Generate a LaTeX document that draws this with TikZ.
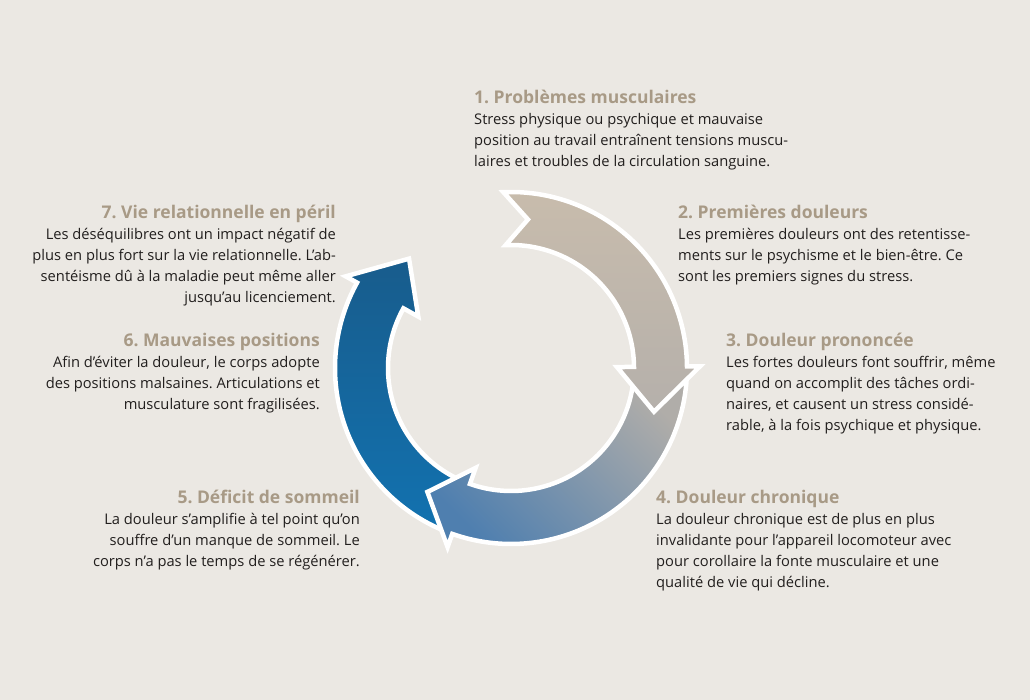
\documentclass[tikz,border=0pt]{standalone}
\usepackage{fontspec}
\setmainfont{Open Sans}
\frenchspacing
\definecolor{bg}{HTML}{EBE8E3}
\definecolor{ttl}{HTML}{A89A86}
\definecolor{txt}{HTML}{221F1E}
\definecolor{tanT}{HTML}{C8BCAC}
\definecolor{tanB}{HTML}{B5B0AB}
\definecolor{greyT}{HTML}{B0ADA9}
\definecolor{greyB}{HTML}{4F7FAF}
\definecolor{blueT}{HTML}{185C8C}
\definecolor{blueB}{HTML}{1272B0}
\newcommand\ttlfont{\fontsize{17.5pt}{20.8pt}\selectfont\bfseries\color{ttl}}
\newcommand\BlockL[1]{\vtop{\baselineskip=20.8pt\lineskiplimit=-100pt\lineskip=0pt\halign{##\hfil\cr#1\crcr}}}
\newcommand\BlockR[1]{\vtop{\baselineskip=20.8pt\lineskiplimit=-100pt\lineskip=0pt\halign{\hfil##\cr#1\crcr}}}
\tikzset{
  arrowshape/.style={draw=white, line width=4.5pt, line join=miter},
  txtblock/.style={inner sep=0pt, text=txt, font=\fontsize{14.7pt}{20.8pt}\selectfont}
}
\begin{document}
\begin{tikzpicture}[x=1pt,y=1pt]
\useasboundingbox (0,0) rectangle (1030,700);
\fill[bg] (0,0) rectangle (1030,700);
\begin{scope}[shift={(511,332)}]
  % blue arrow (6-7)
  \path[arrowshape, top color=blueT, bottom color=blueB]
    (248:176pt) arc[start angle=248, end angle=151, radius=176pt]
    -- (151:189pt) -- (133:149.5pt) -- (151:106pt) -- (151:123pt)
    arc[start angle=151, end angle=248, radius=123pt] -- cycle;
  % grey arrow (3-5)
  \path[arrowshape, top color=greyT, bottom color=greyB, shading angle=-45]
    (-1:176pt) arc[start angle=-1, end angle=-109.5, radius=176pt]
    -- (-109.5:190pt) -- (-124:149.5pt) -- (-109.5:106pt) -- (-109.5:123pt)
    arc[start angle=-109.5, end angle=-1, radius=123pt] -- cycle;
  % tan arrow (1-3)
  \path[arrowshape, top color=tanT, bottom color=tanB]
    (92.5:176pt) arc[start angle=92.5, end angle=0.5, radius=176pt]
    -- (0.5:189pt) -- (-17:149.5pt) -- (0.5:106pt) -- (0.5:123pt)
    arc[start angle=0.5, end angle=92.5, radius=123pt] -- (83.5:149.5pt) -- cycle;
\end{scope}

\node[txtblock, anchor=base west] (b1) at (474,596) {\BlockL{{\ttlfont 1. Problèmes musculaires}\cr
Stress physique ou psychique et mauvaise\cr
position au travail entraînent tensions muscu-\cr
laires et troubles de la circulation sanguine.}};

\node[txtblock, anchor=base west] (b2) at (678,481) {\BlockL{{\ttlfont 2. Premières douleurs}\cr
Les premières douleurs ont des retentisse-\cr
ments sur le psychisme et le bien-être. Ce\cr
sont les premiers signes du stress.}};

\node[txtblock, anchor=base west] (b3) at (726,353) {\BlockL{{\ttlfont 3. Douleur prononcée}\cr
Les fortes douleurs font souffrir, même\cr
quand on accomplit des tâches ordi-\cr
naires, et causent un stress considé-\cr
rable, à la fois psychique et physique.}};

\node[txtblock, anchor=base west] (b4) at (656,196) {\BlockL{{\ttlfont 4. Douleur chronique}\cr
La douleur chronique est de plus en plus\cr
invalidante pour l’appareil locomoteur avec\cr
pour corollaire la fonte musculaire et une\cr
qualité de vie qui décline.}};

\node[txtblock, anchor=base east] (b5) at (360,196) {\BlockR{{\ttlfont 5. Déficit de sommeil}\cr
La douleur s’amplifie à tel point qu’on\cr
souffre d’un manque de sommeil. Le\cr
corps n’a pas le temps de se régénérer.}};

\node[txtblock, anchor=base east] (b6) at (320,353) {\BlockR{{\ttlfont 6. Mauvaises positions}\cr
Afin d’éviter la douleur, le corps adopte\cr
des positions malsaines. Articulations et\cr
musculature sont fragilisées.}};

\node[txtblock, anchor=base east] (b7) at (336,481) {\BlockR{{\ttlfont 7. Vie relationnelle en péril}\cr
Les déséquilibres ont un impact négatif de\cr
plus en plus fort sur la vie relationnelle. L’ab-\cr
sentéisme dû à la maladie peut même aller\cr
jusqu’au licenciement.}};
\end{tikzpicture}
\end{document}
